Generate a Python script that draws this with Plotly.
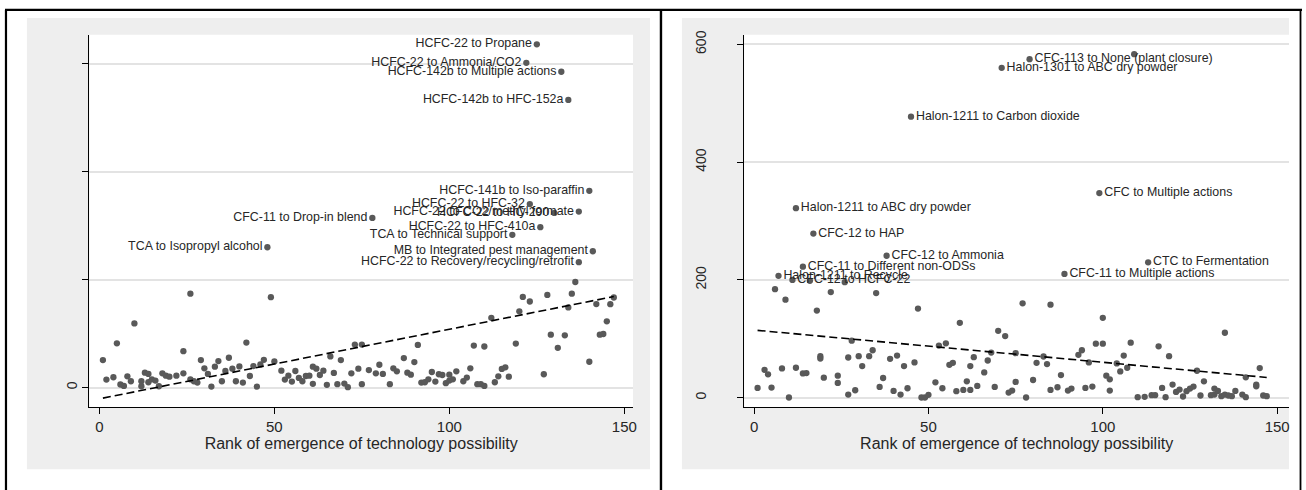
import plotly.graph_objects as go

W, H = 1306, 490

# ---------------- Left panel data ----------------
left_x = [1, 2, 4, 5, 6, 7, 8, 9, 10, 12, 12, 13, 14, 14, 15, 16, 17, 18, 19, 20,
          22, 24, 24, 26, 26, 27, 28, 29, 30, 31, 32, 33, 34, 35, 36, 37, 38, 39, 40, 41,
          42, 43, 44, 45, 46, 47, 49, 50, 52, 53, 54, 55, 56, 57, 58, 59, 60, 61, 61, 62,
          63, 64, 65, 66, 67, 68, 69, 70, 71, 72, 73, 74, 75, 75, 77, 79, 80, 81, 83, 84,
          85, 87, 88, 89, 90, 91, 92, 93, 94, 95, 96, 97, 98, 99, 100, 100, 101, 102, 104, 105,
          106, 107, 108, 109, 110, 110, 112, 113, 114, 115, 116, 117, 119, 120, 121, 123, 127, 128, 129, 131,
          133, 134, 135, 136, 140, 142, 143, 144, 145, 146, 147]
left_y = [25.4, 7.4, 9.5, 41.0, 2.8, 1.5, 10.4, 5.8, 59.4, 5.8, 1.2, 13.8, 12.6, 4.9, 7.6, 6.4, 1.2, 13.2, 11.0, 10.1,
          11.0, 13.2, 33.7, 7.6, 87.0, 5.8, 4.6, 25.4, 17.8, 12.6, 0.9, 19.3, 24.5, 5.8, 15.3, 27.6, 17.5, 5.8, 19.6, 4.6,
          41.7, 10.7, 19.9, 0.9, 21.4, 25.7, 83.7, 24.2, 15.6, 7.4, 11.0, 5.5, 15.3, 8.9, 5.8, 10.7, 11.0, 19.3, 3.4, 17.5,
          11.6, 15.6, 2.5, 28.8, 13.5, 3.1, 25.4, 3.7, 0.3, 13.2, 39.8, 17.5, 39.8, 3.1, 16.2, 13.2, 21.1, 12.6, 3.1, 17.8,
          15.0, 27.3, 13.8, 11.9, 23.6, 39.5, 4.6, 4.9, 7.6, 14.4, 5.5, 12.3, 11.6, 4.0, 11.9, 6.4, 7.6, 15.0, 5.8, 9.2,
          17.8, 38.9, 3.1, 3.1, 1.5, 38.0, 64.6, 4.9, 10.4, 17.2, 18.7, 10.1, 40.7, 70.6, 84.0, 79.7, 12.3, 85.8, 49.0, 36.8,
          48.4, 74.2, 87.0, 97.8, 23.9, 77.3, 49.0, 49.6, 61.3, 77.2, 83.4]

left_lab_x = [125, 122, 132, 134, 140, 123, 137, 130, 78, 126, 118, 48, 141, 137]
left_lab_y = [318.0, 300.9, 292.6, 266.5, 182.3, 170.0, 163.0, 161.8, 157.2, 148.6, 141.5, 130.0, 126.3, 116.2]
left_labels = ["HCFC-22 to Propane", "HCFC-22 to Ammonia/CO2", "HCFC-142b to Multiple actions",
               "HCFC-142b to HFC-152a", "HCFC-141b to Iso-paraffin", "HCFC-22 to HFC-32",
               "HCFC-22 to CO2/methyl formate", "HCFC-22 to HC-290", "CFC-11 to Drop-in blend",
               "HCFC-22 to HFC-410a", "TCA to Technical support", "TCA to Isopropyl alcohol",
               "MB to Integrated pest management", "HCFC-22 to Recovery/recycling/retrofit"]

left_fit_x = [1, 147]
left_fit_y = [-9.8, 84.3]

left_yticks = [0, 100, 200, 300]
left_yticktext = ["0", "", "", ""]

# ---------------- Right panel data ----------------
right_x = [1, 3, 4, 5, 8, 10, 12, 14, 15, 19, 19, 20, 24, 24, 27, 27, 28, 29, 30, 31,
           33, 34, 36, 37, 39, 40, 41, 42, 43, 44, 46, 48, 49, 50, 52, 53, 54, 55, 56, 57,
           58, 59, 60, 61, 62, 62, 63, 64, 66, 67, 68, 69, 70, 72, 73, 74, 75, 75, 77, 78,
           80, 81, 83, 84, 85, 85, 87, 88, 90, 91, 93, 94, 95, 96, 97, 98, 100, 100, 101, 102,
           102, 104, 105, 106, 107, 108, 110, 112, 114, 115, 116, 117, 118, 119, 120, 121, 122, 123, 124, 125,
           126, 127, 128, 129, 131, 132, 132, 133, 134, 135, 135, 136, 137, 138, 140, 141, 141, 144, 144, 145,
           146, 147, 6, 9, 18, 22, 35, 47, 16, 26, 109]
right_y = [16.8, 47.5, 39.8, 17.3, 49.9, 0.5, 51.0, 41.4, 42.0, 70.6, 66.7, 34.2, 37.5, 25.2, 5.5, 68.4, 97.0, 12.8, 70.6, 53.8,
           70.6, 80.7, 18.5, 33.6, 66.1, 11.7, 71.7, 5.5, 53.8, 16.2, 60.0, 0.5, 0.5, 5.0, 26.3, 88.6, 16.2, 92.5, 56.0, 59.4,
           11.2, 127.2, 13.4, 28.0, 53.8, 13.4, 68.9, 20.1, 43.1, 63.3, 76.8, 18.5, 113.7, 104.8, 8.9, 12.3, 26.9, 75.7, 160.4, 0.5,
           30.2, 59.4, 70.1, 57.2, 158.1, 13.4, 17.9, 38.6, 12.3, 15.6, 72.9, 80.7, 16.8, 60.0, 19.0, 91.9, 91.9, 135.7, 37.5, 31.3,
           12.3, 58.3, 44.8, 71.7, 51.0, 93.6, 1.1, 1.6, 4.4, 4.4, 87.4, 16.8, 1.1, 70.6, 22.4, 10.0, 14.0, 2.2, 11.2, 15.6,
           19.0, 45.9, 3.9, 28.0, 4.4, 15.6, 5.5, 11.7, 2.8, 110.4, 5.5, 3.9, 2.8, 11.7, 5.5, 1.1, 34.7, 19.6, 22.4, 50.5,
           3.9, 2.8, 184.4, 166.6, 148.0, 179.4, 177.7, 151.4, 198.5, 196.2, 583.3]

right_lab_x = [79, 71, 45, 99, 12, 17, 38, 113, 14, 89, 7, 11]
right_lab_y = [574.8, 560.2, 477.2, 347.6, 321.9, 278.7, 241.1, 229.9, 222.6, 210.3, 207.0, 200.0]
right_labels = ["CFC-113 to None (plant closure)", "Halon-1301 to ABC dry powder",
                "Halon-1211 to Carbon dioxide", "CFC to Multiple actions",
                "Halon-1211 to ABC dry powder", "CFC-12 to HAP", "CFC-12 to Ammonia",
                "CTC to Fermentation", "CFC-11 to Different non-ODSs",
                "CFC-11 to Multiple actions", "Halon-1211 to Recycle", "CFC-12 to HCFC-22"]

right_fit_x = [1, 147]
right_fit_y = [114.5, 34.5]

right_yticks = [0, 200, 400, 600]
right_yticktext = ["0", "200", "400", "600"]

x_ticks = [0, 50, 100, 150]
x_title = "Rank of emergence of technology possibility"

# ---------------- styles ----------------
FONT = "Liberation Sans, Arial, sans-serif"
MARKER_COLOR = "#595959"
TEXT_COLOR = "#262626"
GRID = "#e3e3e3"
GRAY_BG = "#eeeeee"
LABEL_SIZE = 12.4


def px_x(p):
    return p / W


def px_y(p):
    return 1 - p / H


fig = go.Figure()

# left panel
fig.add_trace(go.Scatter(x=left_x, y=left_y, mode="markers", xaxis="x", yaxis="y",
                         marker=dict(color=MARKER_COLOR, size=6.3), showlegend=False, hoverinfo="skip"))
fig.add_trace(go.Scatter(x=left_lab_x, y=left_lab_y, mode="markers+text", text=left_labels,
                         textposition="middle left", xaxis="x", yaxis="y",
                         textfont=dict(family=FONT, size=LABEL_SIZE, color=TEXT_COLOR),
                         marker=dict(color=MARKER_COLOR, size=6.3), showlegend=False, hoverinfo="skip"))
fig.add_trace(go.Scatter(x=left_fit_x, y=left_fit_y, mode="lines", xaxis="x", yaxis="y",
                         line=dict(color="black", width=1.6, dash="8px,4px"), showlegend=False, hoverinfo="skip"))

# right panel
fig.add_trace(go.Scatter(x=right_x, y=right_y, mode="markers", xaxis="x2", yaxis="y2",
                         marker=dict(color=MARKER_COLOR, size=6.3), showlegend=False, hoverinfo="skip"))
fig.add_trace(go.Scatter(x=right_lab_x, y=right_lab_y, mode="markers+text", text=right_labels,
                         textposition="middle right", xaxis="x2", yaxis="y2",
                         textfont=dict(family=FONT, size=LABEL_SIZE, color=TEXT_COLOR),
                         marker=dict(color=MARKER_COLOR, size=6.3), showlegend=False, hoverinfo="skip"))
fig.add_trace(go.Scatter(x=right_fit_x, y=right_fit_y, mode="lines", xaxis="x2", yaxis="y2",
                         line=dict(color="black", width=1.6, dash="8px,4px"), showlegend=False, hoverinfo="skip"))

ydom = [px_y(406.7), px_y(31)]

xaxis_common = dict(
    tickvals=x_ticks, ticktext=[str(v) for v in x_ticks],
    ticks="outside", ticklen=6, tickwidth=1.2, tickcolor="black",
    showline=True, linecolor="black", linewidth=1.2,
    showgrid=False, zeroline=False,
    tickfont=dict(family=FONT, size=15, color=TEXT_COLOR),
    title=dict(text=x_title, font=dict(family=FONT, size=16, color=TEXT_COLOR), standoff=0),
)
yaxis_common = dict(
    ticks="outside", ticklen=6, tickwidth=1.2, tickcolor="black",
    showline=True, linecolor="black", linewidth=1.2,
    showgrid=True, gridcolor=GRID, gridwidth=1.5, zeroline=False,
    tickangle=-90,
    tickfont=dict(family=FONT, size=14, color=TEXT_COLOR),
)

fig.update_layout(
    width=W, height=H,
    margin=dict(l=0, r=0, t=0, b=0),
    paper_bgcolor="white",
    plot_bgcolor="rgba(0,0,0,0)",
    xaxis=dict(domain=[px_x(89.6), px_x(635)], range=[-2.88, 152.5], anchor="y", **xaxis_common),
    yaxis=dict(domain=ydom, range=[-18.4, 326.9], anchor="x",
               tickvals=left_yticks, ticktext=left_yticktext, ticklabelstandoff=0, **yaxis_common),
    xaxis2=dict(domain=[px_x(746.5), px_x(1293)], range=[-2.83, 153.4], anchor="y2", **xaxis_common),
    yaxis2=dict(domain=ydom, range=[-16.3, 616.3], anchor="x2",
                tickvals=right_yticks, ticktext=right_yticktext, ticklabelstandoff=26, **yaxis_common),
)

shapes = []
# gray graph regions
shapes.append(dict(type="rect", xref="paper", yref="paper", layer="below",
                   x0=px_x(27), x1=px_x(652), y0=px_y(469), y1=px_y(14),
                   fillcolor=GRAY_BG, line=dict(width=0)))
shapes.append(dict(type="rect", xref="paper", yref="paper", layer="below",
                   x0=px_x(684), x1=px_x(1293), y0=px_y(469), y1=px_y(14),
                   fillcolor=GRAY_BG, line=dict(width=0)))
# white plot regions
shapes.append(dict(type="rect", xref="paper", yref="paper", layer="below",
                   x0=px_x(89.6), x1=px_x(635), y0=px_y(406.7), y1=px_y(31),
                   fillcolor="white", line=dict(width=0)))
shapes.append(dict(type="rect", xref="paper", yref="paper", layer="below",
                   x0=px_x(746.5), x1=px_x(1293), y0=px_y(406.7), y1=px_y(31),
                   fillcolor="white", line=dict(width=0)))
# black frame lines
for (x0, y0, x1, y1, w) in [(6, 6, 6, 490, 2.2), (5, 6, 1306, 6, 2.2),
                            (663, 6, 663, 490, 2.4), (1304.5, 6, 1304.5, 490, 1.8)]:
    shapes.append(dict(type="line", xref="paper", yref="paper", layer="above",
                       x0=px_x(x0), x1=px_x(x1), y0=px_y(y0), y1=px_y(y1),
                       line=dict(color="black", width=w)))
fig.update_layout(shapes=shapes)

fig.write_html("out.html",
               config={"displayModeBar": False},
               post_script="document.body.style.margin='0';document.body.style.padding='0';"
                           "document.documentElement.style.overflow='hidden';")
